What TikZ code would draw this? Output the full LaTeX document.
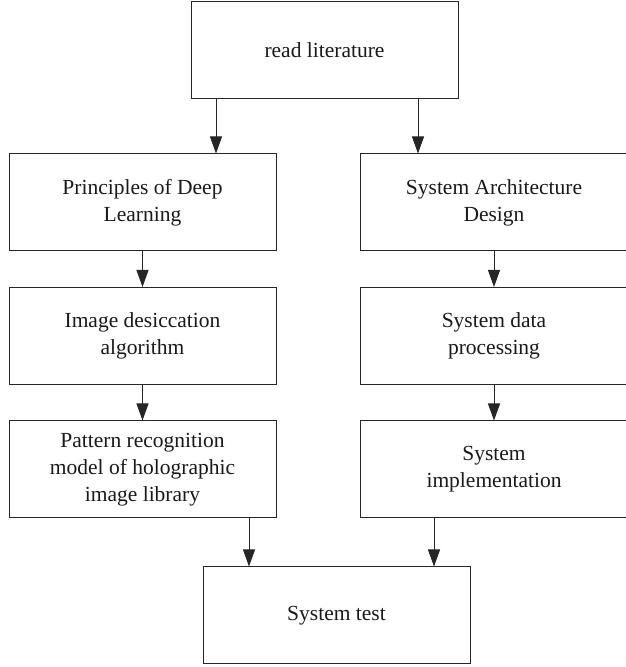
\documentclass[tikz,border=0pt]{standalone}
\usepackage{fontspec}
\setmainfont{Liberation Serif}
\usetikzlibrary{arrows.meta}

\begin{document}
\begin{tikzpicture}[x=1pt,y=1pt,
  box/.style={draw=black!85, line width=1pt, minimum height=97pt, align=center, inner sep=0pt, text=black!90, font=\fontsize{21.5}{27}\selectfont},
  arr/.style={draw=black!85, line width=1pt, -{Triangle[length=17pt,width=12pt]}}]
\useasboundingbox (0,0) rectangle (626,667);
\node[box, minimum width=267pt] (read) at (324.5,616.5) {read literature};
\node[box, minimum width=267pt] (deep) at (142.5,464.5) {Principles of Deep\\Learning};
\node[box, minimum width=268pt] (arch) at (494,464.5) {System Architecture\\Design};
\node[box, minimum width=267pt] (desic) at (142.5,331) {Image desiccation\\algorithm};
\node[box, minimum width=268pt] (data) at (494,331) {System data\\processing};
\node[box, minimum width=267pt] (holo) at (142.5,197.5) {Pattern recognition\\model of holographic\\image library};
\node[box, minimum width=268pt] (impl) at (494,197.5) {System\\implementation};
\node[box, minimum width=267pt] (test) at (336.5,51.5) {System test};
% arrows
\draw[arr] ([xshift=-108.5pt]read.south) -- (deep.north -| {(216,0)});
\draw[arr] ([xshift=93.5pt]read.south) -- (arch.north -| {(418,0)});
\draw[arr] (deep) -- (desic);
\draw[arr] (desic) -- (holo);
\draw[arr] (arch) -- (data);
\draw[arr] (data) -- (impl);
\draw[arr] ([xshift=106.5pt]holo.south) -- (test.north -| {(249,0)});
\draw[arr] ([xshift=-60pt]impl.south) -- (test.north -| {(434,0)});
\end{tikzpicture}
\end{document}
